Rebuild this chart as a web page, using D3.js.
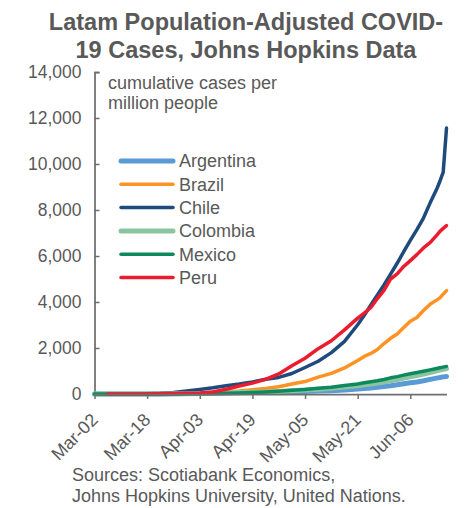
<!DOCTYPE html>
<html><head><meta charset="utf-8">
<script src="https://cdn.jsdelivr.net/npm/d3@7"></script>
<style>
body{margin:0;background:#fff;}
svg{display:block;font-family:"Liberation Sans",Arial,sans-serif;}
</style></head><body>
<svg id="c" width="469" height="508"></svg>
<script>
const dates = ["2020-03-02","2020-03-06","2020-03-10","2020-03-14","2020-03-18","2020-03-22","2020-03-26","2020-03-30","2020-04-03","2020-04-07","2020-04-11","2020-04-15","2020-04-19","2020-04-23","2020-04-27","2020-05-01","2020-05-05","2020-05-09","2020-05-13","2020-05-17","2020-05-21","2020-05-23","2020-05-25","2020-05-27","2020-05-29","2020-05-31","2020-06-02","2020-06-04","2020-06-06","2020-06-08","2020-06-10","2020-06-12","2020-06-14","2020-06-15","2020-06-16","2020-06-17"];
const argentina = [0,0,0.4,0.8,1.7,5,11,18,25,36,44,57,63,76,86,100,111,128,145,173,215,240,265,293,325,359,400,445,487,522,575,636,690,715,745,765];
const brazil = [0,0.1,0.1,0.6,1.5,7,14,22,43,66,97,133,182,235,317,434,540,733,894,1134,1459,1634,1763,1937,2194,2422,2612,2893,3165,3327,3633,3898,4081,4178,4342,4494];
const chile = [0,0.3,0.7,3,12,33,68,128,195,268,362,433,528,644,722,890,1152,1424,1798,2290,3012,3420,3870,4304,4740,5214,5684,6187,6681,7150,7650,8300,8900,9250,9650,11560];
const colombia = [0,0,0.1,0.5,1.8,4.6,10,16,25,35,49,61,75,90,110,138,169,206,254,306,360,396,432,474,524,577,625,692,747,800,870,935,1010,1040,1075,1110];
const mexico = [0,0,0.1,0.2,0.9,2.5,4.5,8.5,13,22,33,45,64,90,120,161,193,245,297,366,439,485,532,578,631,703,755,820,881,932,990,1050,1110,1140,1170,1200];
const peru = [null,0,0.3,1.2,4.4,11,18,29,48,90,208,348,474,634,870,1227,1553,1972,2316,2787,3300,3520,3760,4150,4500,5000,5220,5545,5800,6060,6350,6580,6900,7070,7200,7317];
const seriesNames = ["Argentina","Brazil","Chile","Colombia","Mexico","Peru"];
const seriesValues = [argentina, brazil, chile, colombia, mexico, peru];
const colors = ["#5B9BD5","#FF9224","#1F4A7C","#8CC4A1","#0D8A5C","#EC1C2E"];
const widths = [5, 3.5, 3.5, 5, 3.5, 3.5];
const xTickDates = ["2020-03-02","2020-03-18","2020-04-03","2020-04-19","2020-05-05","2020-05-21","2020-06-06"];
const yTicks = [0,2000,4000,6000,8000,10000,12000,14000];
const titleLines = ["Latam Population-Adjusted COVID-","19 Cases, Johns Hopkins Data"];
const noteLines = ["cumulative cases per","million people"];
const sourceLines = ["Sources: Scotiabank Economics,","Johns Hopkins University, United Nations."];

const parse = d3.timeParse("%Y-%m-%d");
const fmt = d3.timeFormat("%b-%d");
const svg = d3.select("#c");
const textCol = "#595959", axisCol = "#6f6f6f";

const x = d3.scaleTime().domain([parse("2020-03-02"), parse("2020-06-17")]).range([94.5, 446.5]);
const y = d3.scaleLinear().domain([0,14000]).range([394, 72]);

// title
svg.append("g").selectAll("text").data(titleLines).join("text")
  .attr("x", 246).attr("y", (d,i)=>30+i*27.5).attr("text-anchor","middle")
  .attr("font-size", 23.5).attr("font-weight","bold").attr("fill", textCol).text(d=>d);

// y axis
const yAxis = d3.axisLeft(y).tickValues(yTicks).tickSize(-5).tickPadding(13).tickFormat(d3.format(","));
const gy = svg.append("g").attr("transform","translate(94.5,0)").call(yAxis);
gy.select(".domain").attr("stroke", axisCol).attr("stroke-width",1.75);
gy.selectAll(".tick line").attr("stroke", axisCol).attr("stroke-width",1.5);
gy.selectAll(".tick text").attr("font-size",17.5).attr("fill",textCol).attr("font-family","Liberation Sans, Arial");

// lines
const pts = dates.map(parse);
const line = d3.line().defined(d=>d[1]!=null).x(d=>x(d[0])).y(d=>y(d[1]));
seriesValues.forEach((vals,i)=>{
  svg.append("path").datum(pts.map((p,j)=>[p, vals[j]]))
    .attr("d", line).attr("fill","none").attr("stroke", colors[i])
    .attr("stroke-width", widths[i]).attr("stroke-linejoin","round").attr("stroke-linecap","round");
});

// x axis
const xAxis = d3.axisBottom(x).tickValues(xTickDates.map(parse)).tickSize(5).tickFormat(fmt).tickSizeOuter(0);
const gx = svg.append("g").attr("transform","translate(0,394)").call(xAxis);
gx.select(".domain").attr("stroke", axisCol).attr("stroke-width",1.75);
gx.selectAll(".tick line").attr("stroke", axisCol).attr("stroke-width",1.5);
gx.selectAll(".tick text").attr("font-size",18).attr("fill",textCol).attr("font-family","Liberation Sans, Arial")
  .attr("text-anchor","end").attr("dy",0).attr("y",0)
  .attr("transform","translate(4,27) rotate(-45)");

// note
svg.append("g").selectAll("text").data(noteLines).join("text")
  .attr("x",108).attr("y",(d,i)=>89+i*20).attr("font-size",18).attr("fill",textCol).text(d=>d);

// legend
const lg = svg.append("g");
seriesNames.forEach((n,i)=>{
  const yy = 161 + i*23.3;
  lg.append("line").attr("x1",121).attr("x2",173).attr("y1",yy).attr("y2",yy)
    .attr("stroke",colors[i]).attr("stroke-width",widths[i]).attr("stroke-linecap","round");
  lg.append("text").attr("x",179).attr("y",yy).attr("dy","0.35em").attr("font-size",18).attr("fill",textCol).text(n);
});

// sources
svg.append("g").selectAll("text").data(sourceLines).join("text")
  .attr("x",72).attr("y",(d,i)=>481+i*20.5).attr("font-size",18).attr("fill",textCol).text(d=>d);
</script>
</body></html>
